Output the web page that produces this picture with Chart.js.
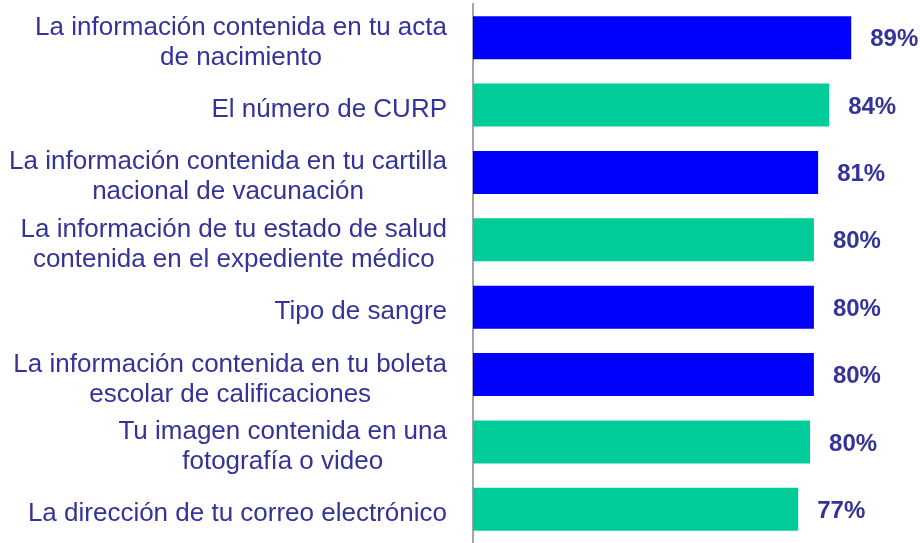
<!DOCTYPE html>
<html>
<head>
<meta charset="utf-8">
<script src="https://cdn.jsdelivr.net/npm/chart.js@4"></script>
<style>
  html, body { margin: 0; padding: 0; background: #fff; }
  canvas { display: block; }
</style>
</head>
<body>
<canvas id="chart" width="920" height="543"></canvas>
<script>
// Horizontal bar chart - share of respondents per data type

const categories = [
    ['La información contenida en tu acta', 'de nacimiento'],
    ['El número de CURP'],
    ['La información contenida en tu cartilla', 'nacional de vacunación'],
    ['La información de tu estado de salud', 'contenida en el expediente médico'],
    ['Tipo de sangre'],
    ['La información contenida en tu boleta', 'escolar de calificaciones'],
    ['Tu imagen contenida en una', 'fotografía o video'],
    ['La dirección de tu correo electrónico']
];
const values = [89.2, 84.0, 81.4, 80.4, 80.4, 80.4, 79.5, 76.7];
const valueLabels = ['89%', '84%', '81%', '80%', '80%', '80%', '80%', '77%'];

const colors = {
    blue: '#0000ff',
    green: '#00cc99',
    text: '#333399',
    axis: '#a6a6a6'
};
const barColors = [colors.blue, colors.green, colors.blue, colors.green,
                   colors.blue, colors.blue, colors.green, colors.green];

// draws the wrapped category labels (centered lines, right-aligned block) and value labels
const labelPlugin = {
    id: 'labels',
    afterDatasetsDraw(chart) {
        const { ctx, scales } = chart;
        const yScale = scales.y;
        const meta = chart.getDatasetMeta(0);
        ctx.save();
        ctx.fillStyle = colors.text;

        // category labels
        ctx.font = '26px "Liberation Sans", Arial, sans-serif';
        ctx.textBaseline = 'alphabetic';
        ctx.textAlign = 'center';
        const blockRight = 447;
        const lineGap = 30;
        categories.forEach((lines, i) => {
            const cy = yScale.getPixelForValue(i);
            const maxW = Math.max(...lines.map(l => ctx.measureText(l).width));
            const cx = blockRight - maxW / 2;
            lines.forEach((line, j) => {
                const y = cy + 12 + (j - (lines.length - 1) / 2) * lineGap;
                ctx.fillText(line, cx, y);
            });
        });

        // value labels
        ctx.font = 'bold 24px "Liberation Sans", Arial, sans-serif';
        ctx.textAlign = 'left';
        ctx.textBaseline = 'middle';
        meta.data.forEach((bar, i) => {
            ctx.fillText(valueLabels[i], bar.x + 19, bar.y + 2);
        });
        ctx.restore();
    }
};

new Chart(document.getElementById('chart'), {
    type: 'bar',
    data: {
        labels: categories,
        datasets: [{
            data: values,
            backgroundColor: barColors,
            borderWidth: 0,
            barPercentage: 1,
            categoryPercentage: 0.64
        }]
    },
    options: {
        indexAxis: 'y',
        responsive: false,
        animation: false,
        layout: { padding: { left: 473, right: 23, top: 4, bottom: 0 } },
        plugins: {
            legend: { display: false },
            tooltip: { enabled: false }
        },
        scales: {
            x: {
                display: false,
                min: 0,
                max: 100
            },
            y: {
                grid: { display: false, drawTicks: false },
                border: { display: true, color: colors.axis, width: 2 },
                ticks: { display: false }
            }
        }
    },
    plugins: [labelPlugin]
});
</script>
</body>
</html>
